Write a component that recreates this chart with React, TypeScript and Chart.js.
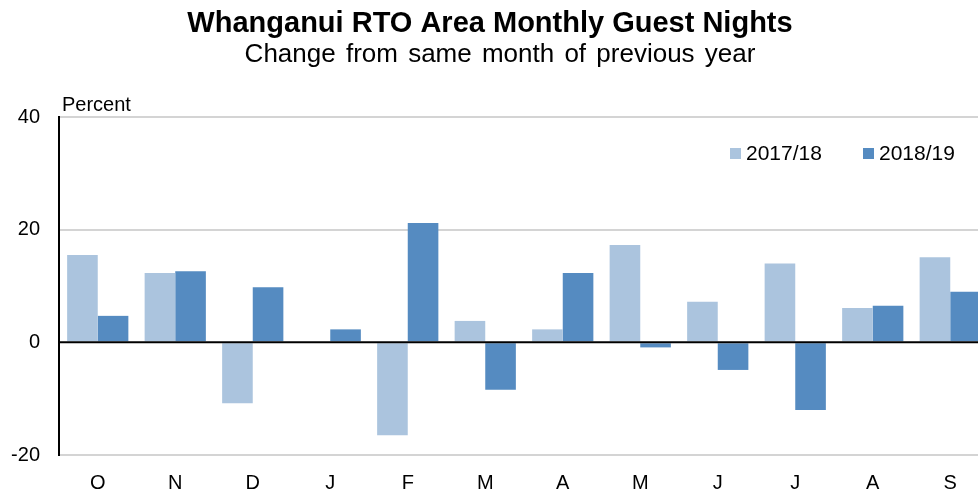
import React, { useEffect, useRef } from "react";
import { Chart, registerables } from "chart.js";

Chart.register(...registerables);

const titleText = "Whanganui RTO Area Monthly Guest Nights";
const subtitleText = "Change from same month of previous year";
const yAxisLabel = "Percent";
const categories = ["O", "N", "D", "J", "F", "M", "A", "M", "J", "J", "A", "S"];
const seriesNames = ["2017/18", "2018/19"];
const values2017 = [15.5, 12.3, -10.8, 0, -16.5, 3.8, 2.3, 17.3, 7.2, 14.0, 6.1, 15.1];
const values2018 = [4.7, 12.6, 9.8, 2.3, 21.2, -8.4, 12.3, -0.9, -4.9, -12.0, 6.5, 9.0];
const yMin = -20;
const yMax = 40;
const yStep = 20;

const FONT = "'Liberation Sans', Arial, sans-serif";
const LIGHT = "#abc4de";
const DARK = "#558bc1";

const overlayPlugin = {
  id: "overlay",
  afterDatasetsDraw(chart: any) {
    const { ctx, chartArea, scales } = chart;
    const y0 = scales.y.getPixelForValue(0);
    ctx.save();
    ctx.strokeStyle = "#000";
    ctx.lineWidth = 2;
    ctx.beginPath();
    ctx.moveTo(chartArea.left, y0);
    ctx.lineTo(chartArea.right, y0);
    ctx.stroke();
    ctx.restore();
  },
  afterDraw(chart: any) {
    const { ctx } = chart;
    ctx.save();
    ctx.fillStyle = "#000";
    ctx.textAlign = "center";
    ctx.textBaseline = "alphabetic";
    ctx.font = `bold 29px ${FONT}`;
    ctx.fillText(titleText, 490, 32);
    ctx.font = `26px ${FONT}`;
    try { (ctx as any).wordSpacing = "3px"; } catch (e) {}
    ctx.fillText(subtitleText, 500, 62);
    try { (ctx as any).wordSpacing = "0px"; } catch (e) {}
    ctx.textAlign = "left";
    ctx.font = `20px ${FONT}`;
    ctx.fillText(yAxisLabel, 62, 111);

    // legend
    const items = chart.data.datasets.map((d: any) => ({ label: d.label, color: d.backgroundColor }));
    const startXs = [730, 863];
    ctx.font = `21px ${FONT}`;
    ctx.textBaseline = "middle";
    items.forEach((it: any, i: number) => {
      const x = startXs[i];
      ctx.fillStyle = it.color;
      ctx.fillRect(x, 148, 11, 11);
      ctx.fillStyle = "#000";
      ctx.fillText(it.label, x + 16, 154);
    });
    ctx.restore();
  },
};

export default function App() {
  const ref = useRef<HTMLCanvasElement>(null);
  useEffect(() => {
    if (!ref.current) return;
    const chart = new Chart(ref.current, {
      type: "bar",
      data: {
        labels: categories,
        datasets: [
          { label: seriesNames[0], data: values2017, backgroundColor: LIGHT, borderWidth: 0 },
          { label: seriesNames[1], data: values2018, backgroundColor: DARK, borderWidth: 0 },
        ],
      },
      options: {
        responsive: false,
        animation: false,
        devicePixelRatio: 1,
        layout: { padding: { top: 117, left: 0, right: 0, bottom: 0 } },
        datasets: { bar: { categoryPercentage: 0.79, barPercentage: 1 } },
        plugins: { legend: { display: false }, tooltip: { enabled: false }, title: { display: false } },
        scales: {
          x: {
            grid: { display: false },
            border: { display: false },
            ticks: { color: "#000", font: { family: FONT, size: 20 }, padding: 8, maxRotation: 0, autoSkip: false },
            afterFit: (s: any) => { s.height = 41; },
          },
          y: {
            min: yMin,
            max: yMax,
            border: { display: true, color: "#000", width: 2 },
            grid: {
              drawTicks: false,
              color: (c: any) => (c.tick && c.tick.value === 0 ? "rgba(0,0,0,0)" : "#d4d4d4"),
              lineWidth: 2,
            },
            ticks: { stepSize: yStep, color: "#000", font: { family: FONT, size: 20 }, padding: 19 },
            afterFit: (s: any) => { s.width = 59; },
          },
        },
      },
      plugins: [overlayPlugin],
    });
    return () => chart.destroy();
  }, []);
  return (
    <div style={{ position: "fixed", left: 0, top: 0, width: 978, height: 496, overflow: "hidden", background: "#fff" }}>
      <canvas ref={ref} width={989} height={496} style={{ width: 989, height: 496, display: "block" }} />
    </div>
  );
}
